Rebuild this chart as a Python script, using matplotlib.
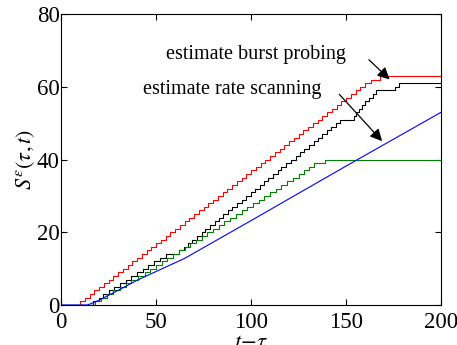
import numpy as np
import matplotlib
matplotlib.use("Agg")
import matplotlib.pyplot as plt

plt.rcParams['font.family'] = ['Liberation Serif', 'DejaVu Serif']
plt.rcParams['mathtext.fontset'] = 'stix'

# step positions (x where each curve goes up by one unit)
red_steps = [10, 12.5, 15, 17.5, 20, 22.5, 25, 27.5, 30, 32.5, 35, 37.5, 40, 42.5, 45,
             47.5, 50, 52.5, 55, 57.5, 60, 62.5, 65, 67.5, 70, 72.5, 75, 77.5, 80, 82.5,
             85, 87.5, 90, 92.5, 95, 97.5, 100, 102.5, 105, 107.5, 110, 112.5, 115, 117.5,
             120, 122.5, 125, 127.5, 130, 132.5, 135, 137.5, 140, 142.5, 145, 147.5, 150,
             152.5, 155, 157.5, 160, 163, 168]
black_steps = [17, 20, 22, 25, 28, 31, 34, 37, 40, 43, 46, 49, 52, 55, 62, 64.5, 67, 69,
               71.5, 74, 76, 78.5, 81, 83, 85.5, 88, 90, 92.5, 95, 97.5, 100, 102, 104.5,
               107, 109, 111.5, 114, 116, 118.5, 121, 123.5, 126, 128, 130.5, 133, 135,
               137.5, 140, 142, 144.5, 147, 154, 155.5, 157, 158.5, 160, 162, 164, 166,
               176, 178]
green_steps = [18, 21, 24, 27.5, 31, 34, 37, 40.5, 44, 47, 50, 53, 56, 59, 62, 65, 68,
               71, 74, 77, 80, 83, 86, 89, 92, 95, 98, 101, 104, 107, 110, 113, 116, 119,
               122, 125, 128, 130.5, 133, 139]
blue_x = [0, 14, 20, 30, 40, 50, 65, 100, 150, 200]
blue_y = [0, 0, 1.3, 4.0, 6.8, 9.2, 12.8, 23.2, 38.2, 53]


def staircase(steps):
    x = [0] + list(steps) + [200]
    y = list(range(len(steps) + 1)) + [len(steps)]
    return x, y


fig = plt.figure(figsize=(4.57, 3.45), dpi=100)
ax = fig.add_axes([0.1335, 0.116, 0.8315, 0.843])

for steps, col in [(red_steps, 'r'), (black_steps, 'k'), (green_steps, 'g')]:
    x, y = staircase(steps)
    ax.plot(x, y, color=col, lw=0.8, drawstyle='steps-post')
ax.plot(blue_x, blue_y, color='b', lw=0.8)

ax.set_xlim(0, 200)
ax.set_ylim(0, 80)
ax.set_xticks([0, 50, 100, 150, 200])
ax.set_yticks([0, 20, 40, 60, 80])
ax.tick_params(direction='in', top=True, right=True, labelsize=16.5, length=4, pad=1)
ax.tick_params(axis='x', pad=5)
ax.set_xlabel(r'$t\mathrm{-}\tau$', fontsize=16.5, labelpad=-1)
ax.set_ylabel(r'$S^{\varepsilon}(\tau,t)$', fontsize=16, labelpad=0)

arrow = dict(arrowstyle='-|>', color='k', lw=0.9, mutation_scale=18)
ax.annotate('', xy=(174, 61.5), xytext=(161, 68), arrowprops=arrow)
ax.annotate('', xy=(170, 44.5), xytext=(145.5, 58.5), arrowprops=arrow)
ax.text(102.5, 69, 'estimate burst probing', fontsize=14.5, ha='center', va='center')
ax.text(90, 59.2, 'estimate rate scanning', fontsize=14.5, ha='center', va='center')

fig.savefig('out.png', dpi=100)
